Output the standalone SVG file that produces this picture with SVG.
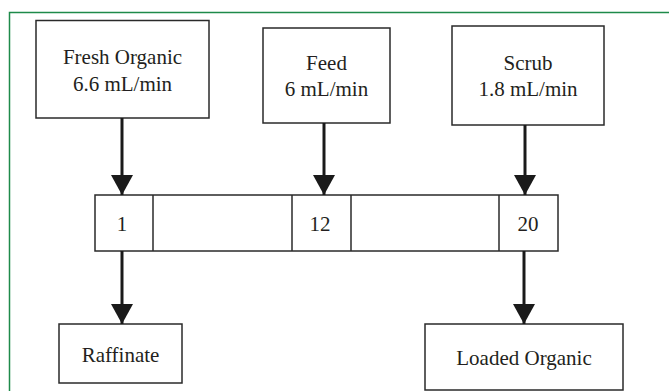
<svg xmlns="http://www.w3.org/2000/svg" width="669" height="391" viewBox="0 0 669 391">
<style>
.box{fill:#fff;stroke:#2a2a2a;stroke-width:1.5}
.t{font-family:"Liberation Serif","Times New Roman",serif;font-size:21px;fill:#231f20;text-anchor:middle}
.c{stroke:#1a1a1a;stroke-width:3;fill:none}
</style>
<defs>
<marker id="ah" markerUnits="userSpaceOnUse" markerWidth="22" markerHeight="24" refX="20" refY="11" orient="auto">
<path d="M0,0 L20,11 L0,22 Z" fill="#1a1a1a"/>
</marker>
</defs>
<rect width="669" height="391" fill="#fff"/>
<path d="M9.5,391 V12.5 H669" fill="none" stroke="#1e8a4a" stroke-width="1.5"/>
<g id="fresh-organic">
<rect class="box" x="36" y="20.5" width="173" height="97.5"/>
<text class="t" x="122.5" y="64">Fresh Organic</text>
<text class="t" x="122.5" y="91">6.6 mL/min</text>
</g>
<g id="feed">
<rect class="box" x="263" y="28" width="127" height="95"/>
<text class="t" x="326.5" y="70">Feed</text>
<text class="t" x="326.5" y="96">6 mL/min</text>
</g>
<g id="scrub">
<rect class="box" x="452" y="26" width="152" height="99"/>
<text class="t" x="528" y="70">Scrub</text>
<text class="t" x="528" y="96">1.8 mL/min</text>
</g>
<g id="column">
<rect class="box" x="95" y="195" width="463" height="56"/>
<line class="box" x1="153" y1="195" x2="153" y2="251"/>
<line class="box" x1="292" y1="195" x2="292" y2="251"/>
<line class="box" x1="351" y1="195" x2="351" y2="251"/>
<line class="box" x1="499" y1="195" x2="499" y2="251"/>
<text class="t" x="122" y="231">1</text>
<text class="t" x="320" y="231">12</text>
<text class="t" x="528" y="231">20</text>
</g>
<g id="raffinate">
<rect class="box" x="59" y="324" width="123" height="59"/>
<text class="t" x="120.5" y="362">Raffinate</text>
</g>
<g id="loaded-organic">
<rect class="box" x="425" y="324" width="198" height="66"/>
<text class="t" x="524" y="365">Loaded Organic</text>
</g>
<g id="connectors">
<line class="c" x1="122" y1="118" x2="122" y2="195" marker-end="url(#ah)"/>
<line class="c" x1="324" y1="123" x2="324" y2="195" marker-end="url(#ah)"/>
<line class="c" x1="525" y1="125" x2="525" y2="195" marker-end="url(#ah)"/>
<line class="c" x1="122" y1="251" x2="122" y2="324" marker-end="url(#ah)"/>
<line class="c" x1="524" y1="251" x2="524" y2="324" marker-end="url(#ah)"/>
</g>
</svg>
